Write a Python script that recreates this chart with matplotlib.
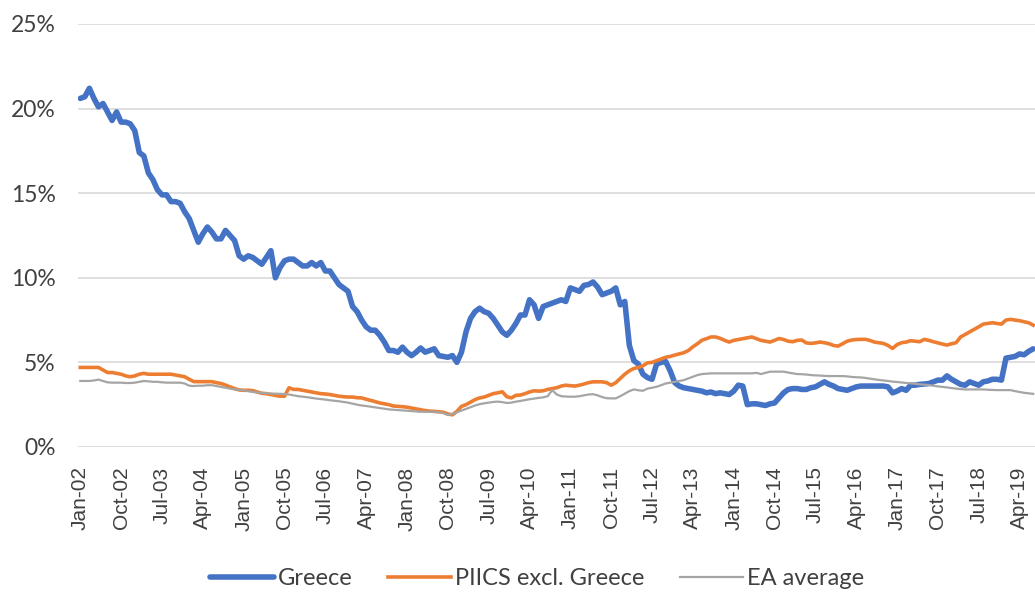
import matplotlib
matplotlib.use("Agg")
import matplotlib.pyplot as plt
import numpy as np

# Monthly data, Jan-2002 .. Jul-2019 (percent)
greece = [
    20.6, 20.7, 21.2, 20.6, 20.1, 20.3, 19.8, 19.3, 19.8, 19.2, 19.2, 19.1,  # 2002
    18.7, 17.4, 17.2, 16.2, 15.8, 15.2, 14.9, 14.9, 14.5, 14.5, 14.4, 13.9,  # 2003
    13.5, 12.8, 12.1, 12.6, 13.0, 12.7, 12.3, 12.3, 12.8, 12.5, 12.2, 11.3,  # 2004
    11.1, 11.3, 11.2, 11.0, 10.8, 11.2, 11.6, 10.0, 10.6, 11.0, 11.1, 11.1,  # 2005
    10.9, 10.7, 10.7, 10.9, 10.7, 10.9, 10.4, 10.4, 10.0, 9.6, 9.4, 9.2,     # 2006
    8.3, 8.0, 7.5, 7.1, 6.9, 6.9, 6.6, 6.2, 5.7, 5.7, 5.6, 5.9,              # 2007
    5.6, 5.4, 5.6, 5.85, 5.6, 5.7, 5.8, 5.4, 5.35, 5.3, 5.4, 5.0,            # 2008
    5.6, 6.8, 7.6, 8.0, 8.2, 8.0, 7.9, 7.6, 7.2, 6.8, 6.6, 6.9,              # 2009
    7.3, 7.8, 7.8, 8.7, 8.4, 7.6, 8.3, 8.4, 8.5, 8.6, 8.7, 8.6,              # 2010
    9.4, 9.3, 9.2, 9.55, 9.6, 9.75, 9.45, 9.0, 9.1, 9.2, 9.4, 8.4,           # 2011
    8.6, 6.0, 5.1, 4.9, 4.3, 4.1, 4.0, 4.9, 5.0, 5.05, 4.5, 3.8,             # 2012
    3.6, 3.5, 3.45, 3.4, 3.35, 3.3, 3.2, 3.25, 3.15, 3.2, 3.15, 3.1,         # 2013
    3.3, 3.65, 3.6, 2.5, 2.55, 2.55, 2.5, 2.45, 2.55, 2.6, 2.9, 3.2,         # 2014
    3.4, 3.45, 3.45, 3.4, 3.4, 3.5, 3.55, 3.7, 3.85, 3.7, 3.6, 3.45,         # 2015
    3.4, 3.35, 3.45, 3.55, 3.6, 3.6, 3.6, 3.6, 3.6, 3.6, 3.55, 3.2,          # 2016
    3.3, 3.45, 3.35, 3.65, 3.65, 3.7, 3.72, 3.75, 3.85, 3.95, 3.95, 4.2,     # 2017
    4.0, 3.85, 3.7, 3.65, 3.85, 3.75, 3.65, 3.85, 3.9, 4.0, 4.0, 3.95,       # 2018
    5.25, 5.3, 5.35, 5.5, 5.45, 5.65, 5.8,                                   # 2019
]
piics_ex_greece = [
    4.7, 4.7, 4.7, 4.7, 4.7, 4.55, 4.4, 4.4, 4.35, 4.3, 4.2, 4.15,
    4.2, 4.3, 4.35, 4.3, 4.3, 4.3, 4.3, 4.3, 4.3, 4.25, 4.2, 4.15,
    4.0, 3.86, 3.86, 3.86, 3.86, 3.86, 3.8, 3.75, 3.66, 3.55, 3.45, 3.37,
    3.35, 3.35, 3.33, 3.25, 3.17, 3.15, 3.1, 3.05, 3.0, 3.0, 3.5, 3.4,
    3.4, 3.35, 3.3, 3.25, 3.2, 3.15, 3.13, 3.1, 3.05, 3.0, 2.97, 2.95,
    2.95, 2.91, 2.9, 2.82, 2.75, 2.68, 2.6, 2.55, 2.5, 2.42, 2.4, 2.38,
    2.35, 2.3, 2.25, 2.2, 2.15, 2.12, 2.1, 2.08, 2.05, 1.95, 1.9, 2.1,
    2.4, 2.5, 2.65, 2.8, 2.9, 2.95, 3.05, 3.15, 3.2, 3.26, 2.97, 2.9,
    3.05, 3.07, 3.15, 3.25, 3.32, 3.3, 3.32, 3.4, 3.45, 3.5, 3.6, 3.65,
    3.62, 3.6, 3.65, 3.72, 3.8, 3.85, 3.85, 3.85, 3.8, 3.65, 3.8, 4.05,
    4.3, 4.5, 4.64, 4.7, 4.8, 4.97, 5.0, 5.1, 5.2, 5.3, 5.35, 5.43,
    5.5, 5.57, 5.7, 5.92, 6.1, 6.31, 6.4, 6.5, 6.5, 6.42, 6.3, 6.2,
    6.3, 6.35, 6.4, 6.45, 6.5, 6.4, 6.3, 6.25, 6.2, 6.3, 6.41, 6.35,
    6.25, 6.22, 6.3, 6.32, 6.15, 6.12, 6.15, 6.2, 6.16, 6.1, 6.0, 5.96,
    6.1, 6.25, 6.32, 6.35, 6.36, 6.36, 6.3, 6.2, 6.16, 6.12, 6.0, 5.82,
    6.05, 6.16, 6.2, 6.28, 6.25, 6.22, 6.36, 6.3, 6.22, 6.15, 6.08, 6.02,
    6.1, 6.16, 6.5, 6.65, 6.8, 6.95, 7.1, 7.26, 7.3, 7.34, 7.3, 7.26,
    7.5, 7.54, 7.5, 7.46, 7.4, 7.34, 7.2,
]
ea_average = [
    3.9, 3.9, 3.9, 3.93, 3.98, 3.9, 3.82, 3.8, 3.8, 3.8, 3.78, 3.78,
    3.8, 3.85, 3.9, 3.88, 3.85, 3.85, 3.82, 3.8, 3.8, 3.8, 3.8, 3.75,
    3.62, 3.6, 3.62, 3.62, 3.65, 3.65, 3.6, 3.55, 3.5, 3.45, 3.4, 3.38,
    3.35, 3.3, 3.25, 3.22, 3.2, 3.18, 3.16, 3.15, 3.14, 3.13, 3.1, 3.05,
    3.0, 2.97, 2.94, 2.9, 2.86, 2.83, 2.8, 2.76, 2.73, 2.7, 2.66, 2.62,
    2.56, 2.5, 2.45, 2.42, 2.38, 2.34, 2.3, 2.26, 2.22, 2.2, 2.18, 2.16,
    2.14, 2.12, 2.1, 2.08, 2.08, 2.08, 2.08, 2.05, 2.0, 1.89, 1.95, 2.05,
    2.15, 2.25, 2.35, 2.45, 2.53, 2.58, 2.62, 2.66, 2.68, 2.65, 2.6, 2.62,
    2.68, 2.72, 2.77, 2.82, 2.86, 2.9, 2.93, 3.0, 3.36, 3.1, 3.0, 2.98,
    2.97, 2.97, 3.0, 3.05, 3.1, 3.12, 3.05, 2.95, 2.88, 2.87, 2.87, 3.0,
    3.15, 3.3, 3.4, 3.35, 3.32, 3.45, 3.5, 3.56, 3.65, 3.75, 3.8, 3.85,
    3.9, 3.95, 4.05, 4.15, 4.25, 4.31, 4.33, 4.35, 4.35, 4.35, 4.35, 4.35,
    4.35, 4.35, 4.35, 4.35, 4.35, 4.38, 4.31, 4.38, 4.45, 4.45, 4.45, 4.45,
    4.4, 4.35, 4.31, 4.3, 4.28, 4.25, 4.23, 4.22, 4.2, 4.19, 4.19, 4.19,
    4.19, 4.17, 4.14, 4.12, 4.11, 4.08, 4.04, 4.0, 3.96, 3.93, 3.9, 3.86,
    3.84, 3.81, 3.78, 3.76, 3.73, 3.7, 3.68, 3.66, 3.62, 3.58, 3.55, 3.52,
    3.48, 3.45, 3.42, 3.4, 3.4, 3.4, 3.4, 3.4, 3.38, 3.37, 3.36, 3.36,
    3.36, 3.36, 3.3, 3.25, 3.2, 3.17, 3.14,
]

month_names = ["Jan", "Feb", "Mar", "Apr", "May", "Jun",
               "Jul", "Aug", "Sep", "Oct", "Nov", "Dec"]
start_year = 2002
n = len(greece)
assert len(piics_ex_greece) == n and len(ea_average) == n
categories = [f"{month_names[i % 12]}-{(start_year + i // 12) % 100:02d}" for i in range(n)]
tick_step = 9
y_ticks = [0, 5, 10, 15, 20, 25]

x = np.arange(n)

fig = plt.figure(figsize=(10.35, 5.92), dpi=100)
ax = fig.add_axes([0.0754, 0.245, 0.9246, 0.7145])

ax.plot(x, greece, color="#4472C4", lw=4.0, solid_joinstyle="round",
        solid_capstyle="round", label="Greece", zorder=3)
ax.plot(x, piics_ex_greece, color="#ED7D31", lw=2.6, solid_joinstyle="round",
        label="PIICS excl. Greece", zorder=4)
ax.plot(x, ea_average, color="#A5A5A5", lw=1.6, solid_joinstyle="round",
        label="EA average", zorder=5)

ax.set_xlim(-0.5, 210.4)
ax.set_ylim(0, 25)
ax.set_yticks(y_ticks)
ax.set_yticklabels([f"{v}%" for v in y_ticks], fontfamily="Lato",
                   fontsize=16.5, color="#404040")
tick_pos = list(range(0, n, tick_step))
ax.set_xticks(tick_pos)
ax.set_xticklabels([categories[i] for i in tick_pos], rotation=90,
                   fontfamily="Liberation Sans", fontsize=15, color="#404040",
                   va="top", ha="center")
ax.tick_params(axis="y", length=0, pad=16)
ax.tick_params(axis="x", length=0, pad=14)
ax.grid(axis="y", color="#D9D9D9", lw=1.2)
ax.set_axisbelow(True)
for s in ax.spines.values():
    s.set_visible(False)

leg = fig.legend(loc="center", bbox_to_anchor=(0.519, 0.022), ncol=3,
                 frameon=False, handlelength=2.7, handletextpad=0.15,
                 columnspacing=1.5, prop={"family": "Lato", "size": 17})
for t in leg.get_texts():
    t.set_color("#404040")

fig.savefig("out.png", dpi=100)
